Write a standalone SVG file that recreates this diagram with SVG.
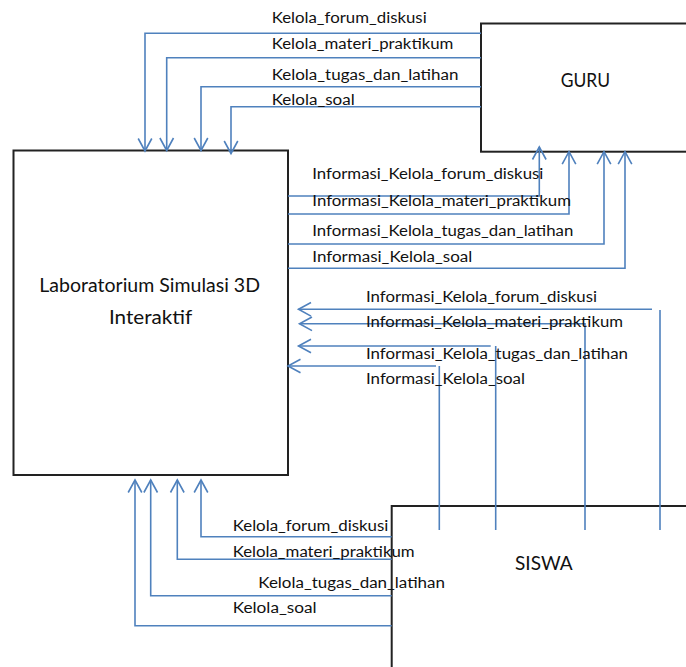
<svg xmlns="http://www.w3.org/2000/svg" width="686" height="667" viewBox="0 0 686 667">
  <style>
    .box { fill: #ffffff; stroke: #222222; stroke-width: 2; }
    .flow { fill: none; stroke: #4f81bd; stroke-width: 1.6; marker-end: url(#chev); }
    .plain { fill: none; stroke: #4f81bd; stroke-width: 1.6; }
    .lbl { font-family: Lato, "Open Sans", "Liberation Sans", sans-serif; font-size: 15.5px; fill: #111111; }
    .name { font-family: Lato, "Open Sans", "Liberation Sans", sans-serif; font-size: 18.5px; fill: #111111; }
  </style>
  <defs>
    <marker id="chev" markerUnits="userSpaceOnUse" orient="auto" refX="0" refY="0" markerWidth="14" markerHeight="16" overflow="visible">
      <path d="M-12.5,-6.8 L0,0 L-12.5,6.8" fill="none" stroke="#4f81bd" stroke-width="1.6"/>
    </marker>
  </defs>

  <rect width="686" height="667" fill="#ffffff"/>

  <!-- entities and process -->
  <g id="lab">
    <rect class="box" x="13.5" y="150.5" width="274.5" height="324.5"/>
    <text class="name" x="39.3" y="291.7" textLength="220.7" lengthAdjust="spacingAndGlyphs">Laboratorium Simulasi 3D</text>
    <text class="name" x="109" y="324" textLength="83.3" lengthAdjust="spacingAndGlyphs">Interaktif</text>
  </g>
  <g id="guru">
    <rect class="box" x="481" y="23.5" width="220" height="128.2"/>
    <text class="name" x="560.7" y="86.7" textLength="49.3" lengthAdjust="spacingAndGlyphs">GURU</text>
  </g>
  <g id="siswa">
    <rect class="box" x="391.7" y="506" width="310" height="180"/>
    <text class="name" x="515" y="570" textLength="57.7" lengthAdjust="spacingAndGlyphs">SISWA</text>
  </g>

  <!-- data flows -->
  <g id="connectors">
    <!-- GURU to system -->
    <path class="flow" d="M481,33.3 H145 V151"/>
    <path class="flow" d="M481,57.7 H166.7 V150.5"/>
    <path class="flow" d="M481,86.7 H201 V150.5"/>
    <path class="flow" d="M481,106.7 H231 V153.5"/>
    <!-- system to GURU -->
    <path class="flow" d="M288,196 H539.3 V147"/>
    <path class="flow" d="M288,214 H569 V151.7"/>
    <path class="flow" d="M288,244 H604 V151.7"/>
    <path class="flow" d="M288,268.3 H625 V151.7"/>
    <!-- system to SISWA -->
    <path class="plain" d="M660,530 V310"/>
    <path class="flow" d="M652,309.3 H298.5"/>
    <path class="flow" d="M585,530 V323.8 H299.5"/>
    <path class="plain" d="M495.7,530 V346"/>
    <path class="flow" d="M490.7,346 H298.5"/>
    <path class="plain" d="M439.3,530 V366"/>
    <path class="flow" d="M436,366 H288"/>
    <!-- SISWA to system -->
    <path class="flow" d="M391.7,536.7 H201 V480"/>
    <path class="flow" d="M391.7,559.3 H177.3 V480"/>
    <path class="flow" d="M391.7,595.7 H150.7 V480"/>
    <path class="flow" d="M391.7,625.7 H135 V480"/>
  </g>

  <!-- flow labels -->
  <g id="labels">
    <text class="lbl" x="271.7" y="22.7" textLength="155" lengthAdjust="spacingAndGlyphs">Kelola_forum_diskusi</text>
    <text class="lbl" x="271.7" y="49.3" textLength="181.7" lengthAdjust="spacingAndGlyphs">Kelola_materi_praktikum</text>
    <text class="lbl" x="271.7" y="80" textLength="186.7" lengthAdjust="spacingAndGlyphs">Kelola_tugas_dan_latihan</text>
    <text class="lbl" x="271.7" y="104.7" textLength="83" lengthAdjust="spacingAndGlyphs">Kelola_soal</text>

    <text class="lbl" x="312.3" y="179.3" textLength="231" lengthAdjust="spacingAndGlyphs">Informasi_Kelola_forum_diskusi</text>
    <text class="lbl" x="312.3" y="206" textLength="258.7" lengthAdjust="spacingAndGlyphs">Informasi_Kelola_materi_praktikum</text>
    <text class="lbl" x="312.3" y="236.3" textLength="261" lengthAdjust="spacingAndGlyphs">Informasi_Kelola_tugas_dan_latihan</text>
    <text class="lbl" x="312.3" y="262" textLength="160" lengthAdjust="spacingAndGlyphs">Informasi_Kelola_soal</text>

    <text class="lbl" x="366" y="301.7" textLength="231" lengthAdjust="spacingAndGlyphs">Informasi_Kelola_forum_diskusi</text>
    <text class="lbl" x="366" y="326.7" textLength="257" lengthAdjust="spacingAndGlyphs">Informasi_Kelola_materi_praktikum</text>
    <text class="lbl" x="366" y="358.7" textLength="262" lengthAdjust="spacingAndGlyphs">Informasi_Kelola_tugas_dan_latihan</text>
    <text class="lbl" x="366" y="384" textLength="159" lengthAdjust="spacingAndGlyphs">Informasi_Kelola_soal</text>

    <text class="lbl" x="232.7" y="531" textLength="155.7" lengthAdjust="spacingAndGlyphs">Kelola_forum_diskusi</text>
    <text class="lbl" x="232.7" y="556.7" textLength="182" lengthAdjust="spacingAndGlyphs">Kelola_materi_praktikum</text>
    <text class="lbl" x="258.3" y="588.3" textLength="186.7" lengthAdjust="spacingAndGlyphs">Kelola_tugas_dan_latihan</text>
    <text class="lbl" x="232.7" y="613.3" textLength="84" lengthAdjust="spacingAndGlyphs">Kelola_soal</text>
  </g>
</svg>
